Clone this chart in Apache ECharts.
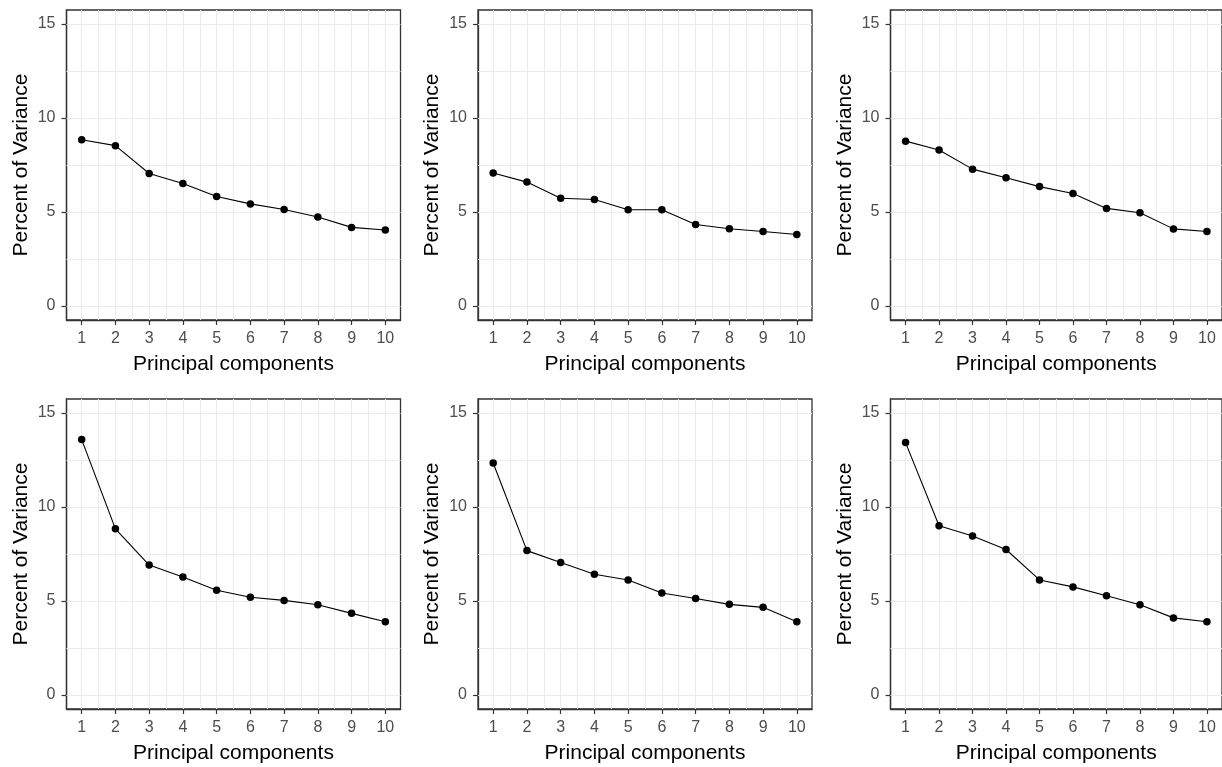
<!DOCTYPE html>
<html>
<head>
<meta charset="utf-8">
<script src="https://cdn.jsdelivr.net/npm/echarts@6/dist/echarts.min.js"></script>
<style>
html,body{margin:0;padding:0;background:#fff;}
#chart{width:1222px;height:767px;}
</style>
</head>
<body>
<div id="chart"></div>
<script>
// ---- data ----
const pcs = [1, 2, 3, 4, 5, 6, 7, 8, 9, 10];
const panel1 = [8.84, 8.53, 7.05, 6.52, 5.82, 5.43, 5.13, 4.73, 4.18, 4.04];
const panel2 = [7.07, 6.59, 5.73, 5.66, 5.12, 5.12, 4.33, 4.11, 3.96, 3.80];
const panel3 = [8.77, 8.30, 7.28, 6.82, 6.35, 5.98, 5.19, 4.96, 4.10, 3.96];
const panel4 = [13.59, 8.84, 6.91, 6.28, 5.57, 5.20, 5.03, 4.80, 4.34, 3.89];
const panel5 = [12.34, 7.68, 7.05, 6.42, 6.12, 5.42, 5.13, 4.82, 4.66, 3.89];
const panel6 = [13.43, 9.00, 8.46, 7.74, 6.12, 5.75, 5.28, 4.80, 4.10, 3.89];
const yTickLabels = [0, 5, 10, 15];
const yGridValues = [0, 2.5, 5, 7.5, 10, 12.5, 15];
const xGridValues = [1, 1.5, 2, 2.5, 3, 3.5, 4, 4.5, 5, 5.5, 6, 6.5, 7, 7.5, 8, 8.5, 9, 9.5, 10];
const xTitle = 'Principal components';
const yTitle = 'Percent of Variance';

const panels = [panel1, panel2, panel3, panel4, panel5, panel6];

// ---- layout ----
const FONT = 'Liberation Sans, Arial, sans-serif';
const lefts = [66.5, 478, 890.5];
const tops = [10, 399];
const W = 334, H = 310;
const XMIN = 0.55, XMAX = 10.45, YMIN = -0.75, YMAX = 15.75;

const grids = [], xAxes = [], yAxes = [], series = [];
panels.forEach((vals, i) => {
  const col = i % 3, row = Math.floor(i / 3);
  grids.push({
    left: lefts[col], top: tops[row], width: W, height: H,
    show: true, backgroundColor: '#fff', borderColor: '#333333', borderWidth: 1.3,
    containLabel: false
  });
  xAxes.push({
    gridIndex: i, type: 'value', min: XMIN, max: XMAX, position: 'bottom',
    name: xTitle, nameLocation: 'middle', nameGap: 34,
    nameTextStyle: { fontFamily: FONT, fontSize: 21, color: '#000' },
    axisLine: { show: true, onZero: false, lineStyle: { color: '#333333', width: 1.3 } },
    axisTick: { show: true, length: 5, customValues: pcs, lineStyle: { color: '#333333', width: 1.2 } },
    axisLabel: { show: true, customValues: pcs, margin: 11, fontFamily: FONT, fontSize: 16, color: '#4D4D4D' },
    splitLine: { show: false },
    minorSplitLine: { show: false }
  });
  yAxes.push({
    gridIndex: i, type: 'value', min: YMIN, max: YMAX, position: 'left',
    name: yTitle, nameLocation: 'middle', nameGap: 35, nameRotate: 90,
    nameTextStyle: { fontFamily: FONT, fontSize: 21, color: '#000' },
    axisLine: { show: true, onZero: false, lineStyle: { color: '#333333', width: 1.3 } },
    axisTick: { show: true, length: 5, customValues: yTickLabels, lineStyle: { color: '#333333', width: 1.2 } },
    axisLabel: { show: true, customValues: yTickLabels, margin: 11, fontFamily: FONT, fontSize: 16, color: '#4D4D4D' },
    splitLine: { show: false },
    minorSplitLine: { show: false }
  });
  const gridLines = xGridValues.map(v => ({ xAxis: v }))
    .concat(yGridValues.map(v => ({ yAxis: v })));
  series.push({
    type: 'line',
    xAxisIndex: i, yAxisIndex: i,
    data: pcs.map((p, k) => [p, vals[k]]),
    symbol: 'circle', symbolSize: 7.5,
    itemStyle: { color: '#000' },
    lineStyle: { color: '#000', width: 1.1 },
    animation: false, silent: true, z: 5,
    markLine: {
      silent: true, z: 1, animation: false,
      symbol: ['none', 'none'],
      label: { show: false },
      emphasis: { disabled: true },
      lineStyle: { color: '#EBEBEB', width: 1.1, type: 'solid' },
      data: gridLines
    }
  });
});

const chart = echarts.init(document.getElementById('chart'), null, { renderer: 'canvas' });
chart.setOption({
  backgroundColor: '#fff',
  animation: false,
  grid: grids,
  xAxis: xAxes,
  yAxis: yAxes,
  series: series
});
</script>
</body>
</html>
